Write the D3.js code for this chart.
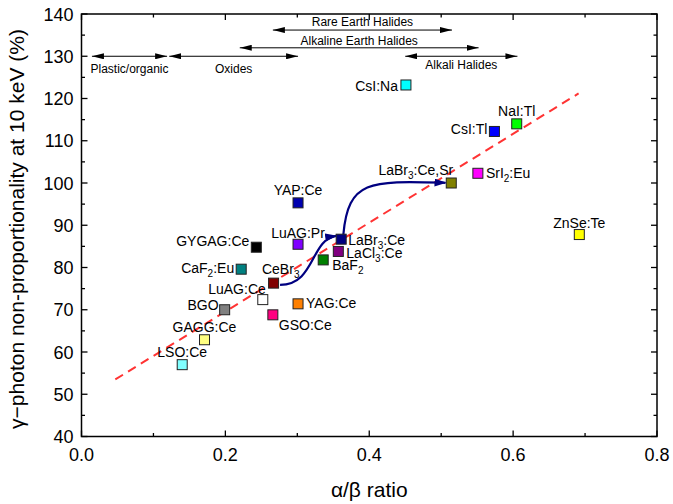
<!DOCTYPE html>
<html><head><meta charset="utf-8">
<script src="https://cdn.jsdelivr.net/npm/d3@7"></script>
<style>body{margin:0;background:#fff}svg{display:block;font-family:Arial,"Liberation Sans",sans-serif}</style>
</head><body><svg id="c" width="673" height="504"></svg>
<script>
// ---- data ----
const materials = ["CsI:Na","NaI:Tl","CsI:Tl","LaBr{3}:Ce,Sr","SrI{2}:Eu","ZnSe:Te","YAP:Ce","LuAG:Pr","GYGAG:Ce","LaBr{3}:Ce","LaCl{3}:Ce","BaF{2}","CaF{2}:Eu","CeBr{3}","LuAG:Ce","YAG:Ce","BGO","GSO:Ce","GAGG:Ce","LSO:Ce"];
const alphaBeta = [0.451,0.605,0.574,0.514,0.551,0.692,0.301,0.301,0.243,0.361,0.357,0.336,0.222,0.267,0.252,0.301,0.199,0.266,0.171,0.140];
const nonProp   = [123.2,114.0,112.2,100.0,102.3,87.8,95.3,85.5,84.8,86.7,83.8,81.8,79.6,76.3,72.4,71.4,70.0,68.8,62.9,57.0];
const colors = ["#00ffff","#00ff00","#0000ff","#808000","#ff00ff","#ffff00","#0000b0","#8000ff","#000000","#000080","#800080","#008000","#008080","#800000","#ffffff","#ff8000","#808080","#ff0080","#ffff80","#80ffff"];
const trendX = [0.047,0.691];
const trendY = [53.5,121.2];
const groupNames = ["Plastic/organic","Oxides","Rare Earth Halides","Alkaline Earth Halides","Alkali Halides"];
const groupFrom  = [0.0145,0.122,0.266,0.220,0.450];
const groupTo    = [0.119,0.301,0.515,0.552,0.606];
const groupLevel = [130,130,136.2,132.0,130];
const curve1 = [[0.276,75.9],[0.325,75.9],[0.318,86.6],[0.354,87.5]];
const curve2 = [[0.364,87.8],[0.371,100.8],[0.401,100.5],[0.506,100.05]];
const xTicks = [0,0.2,0.4,0.6,0.8];
const yTicks = [40,50,60,70,80,90,100,110,120,130,140];

// ---- layout (label placement, px) ----
const labelPos = [
 ["end",-8,6],["middle",0,-8],["end",-7,3],["end",2,-8],["start",8,5],["middle",0,-7],
 ["middle",0,-8],["middle",0,-6.5],["end",-7,-1],["start",7,6],["start",8,6.5],["start",9,10],
 ["end",-7,3.5],["start",-11.6,-9],["end",3,-5.7],["start",8,4.5],["end",-6,0],["start",6,15],
 ["middle",0,-8],["middle",0,-8]];
const groupTextDy = [16.5,16.5,-4,-3,13];

const svg = d3.select("#c");
const L=81.5,R=657,T=14,B=436.5;
const x = d3.scaleLinear().domain([0,0.8]).range([L,R]);
const y = d3.scaleLinear().domain([40,140]).range([B,T]);

// ticks (inward on all sides)
const g = svg.append("g");
const xMinor = d3.range(0,0.81,0.1), yMinor = d3.range(40,141,5);
function tickLines(vals, major, isX){
  vals.forEach(v=>{
    const isMaj = major.some(m=>Math.abs(m-v)<1e-6);
    const len = isMaj?6:3.5;
    if(isX){
      const px=x(v);
      g.append("line").attr("x1",px).attr("x2",px).attr("y1",B).attr("y2",B-len);
      g.append("line").attr("x1",px).attr("x2",px).attr("y1",T).attr("y2",T+len);
    } else {
      const py=y(v);
      g.append("line").attr("x1",L).attr("x2",L+len).attr("y1",py).attr("y2",py);
      g.append("line").attr("x1",R).attr("x2",R-len).attr("y1",py).attr("y2",py);
    }
  });
}
tickLines(xMinor,xTicks,true);
tickLines(yMinor,yTicks,false);
g.selectAll("line").attr("stroke","#000").attr("stroke-width",1.3);
svg.append("rect").attr("x",L).attr("y",T).attr("width",R-L).attr("height",B-T)
  .attr("fill","none").attr("stroke","#000").attr("stroke-width",1.5);

// tick labels
svg.append("g").selectAll("text").data(xTicks).join("text")
  .attr("x",d=>x(d)).attr("y",B+24).attr("text-anchor","middle")
  .attr("font-size",18).text(d=>d3.format(".1f")(d));
svg.append("g").selectAll("text").data(yTicks).join("text")
  .attr("x",L-8).attr("y",d=>y(d)+6.5).attr("text-anchor","end")
  .attr("font-size",18).text(d=>d);

// axis titles
svg.append("text").attr("x",(L+R)/2).attr("y",497).attr("text-anchor","middle")
  .attr("font-size",21).text("α/β ratio");
svg.append("text").attr("transform",`translate(24,229) rotate(-90)`)
  .attr("text-anchor","middle").attr("font-size",21)
  .text("γ−photon non-proportionality at 10 keV (%)");

// defs: arrowheads
const defs = svg.append("defs");
defs.append("marker").attr("id","ah").attr("viewBox","0 0 12 6").attr("refX",12).attr("refY",3)
  .attr("markerWidth",12).attr("markerHeight",6).attr("markerUnits","userSpaceOnUse")
  .attr("orient","auto-start-reverse")
  .append("path").attr("d","M0,0 L12,3 L0,6 Z").attr("fill","#000");
defs.append("marker").attr("id","bh").attr("viewBox","0 0 12 8").attr("refX",11).attr("refY",4)
  .attr("markerWidth",12).attr("markerHeight",8).attr("markerUnits","userSpaceOnUse")
  .attr("orient","auto")
  .append("path").attr("d","M0,0 L12,4 L0,8 Z").attr("fill","#000080");

// group arrows
groupNames.forEach((n,i)=>{
  svg.append("line").attr("x1",x(groupFrom[i])).attr("x2",x(groupTo[i]))
    .attr("y1",y(groupLevel[i])).attr("y2",y(groupLevel[i]))
    .attr("stroke","#000").attr("stroke-width",1)
    .attr("marker-start","url(#ah)").attr("marker-end","url(#ah)");
  svg.append("text").attr("x",(x(groupFrom[i])+x(groupTo[i]))/2)
    .attr("y",y(groupLevel[i])+groupTextDy[i])
    .attr("text-anchor","middle").attr("font-size",12).text(n);
});

// trend line
svg.append("line").attr("x1",x(trendX[0])).attr("y1",y(trendY[0]))
  .attr("x2",x(trendX[1])).attr("y2",y(trendY[1]))
  .attr("stroke","#ff3333").attr("stroke-width",2).attr("stroke-dasharray","9,6");

// blue curves
[curve1,curve2].forEach(c=>{
  const p=c.map(d=>[x(d[0]),y(d[1])]);
  svg.append("path").attr("d",`M${p[0]}C${p[1]} ${p[2]} ${p[3]}`)
    .attr("fill","none").attr("stroke","#000080").attr("stroke-width",2.2)
    .attr("marker-end","url(#bh)");
});

// points
const s=10;
svg.append("g").selectAll("rect").data(materials).join("rect")
  .attr("x",(d,i)=>x(alphaBeta[i])-s/2).attr("y",(d,i)=>y(nonProp[i])-s/2)
  .attr("width",s).attr("height",s).attr("fill",(d,i)=>colors[i])
  .attr("stroke","#222").attr("stroke-width",1);

// labels
materials.forEach((m,i)=>{
  const t=svg.append("text").attr("x",x(alphaBeta[i])+labelPos[i][1])
    .attr("y",y(nonProp[i])+labelPos[i][2]).attr("text-anchor",labelPos[i][0])
    .attr("font-size",14);
  const parts=m.split(/(\{\d+\})/).filter(p=>p.length);
  let sub=false;
  parts.forEach(p=>{
    if(p.startsWith("{")){
      t.append("tspan").attr("font-size",10).attr("dy",4).text(p.slice(1,-1));
      sub=true;
    } else {
      t.append("tspan").attr("dy",sub?-4:0).text(p);
      sub=false;
    }
  });
});
</script></body></html>
